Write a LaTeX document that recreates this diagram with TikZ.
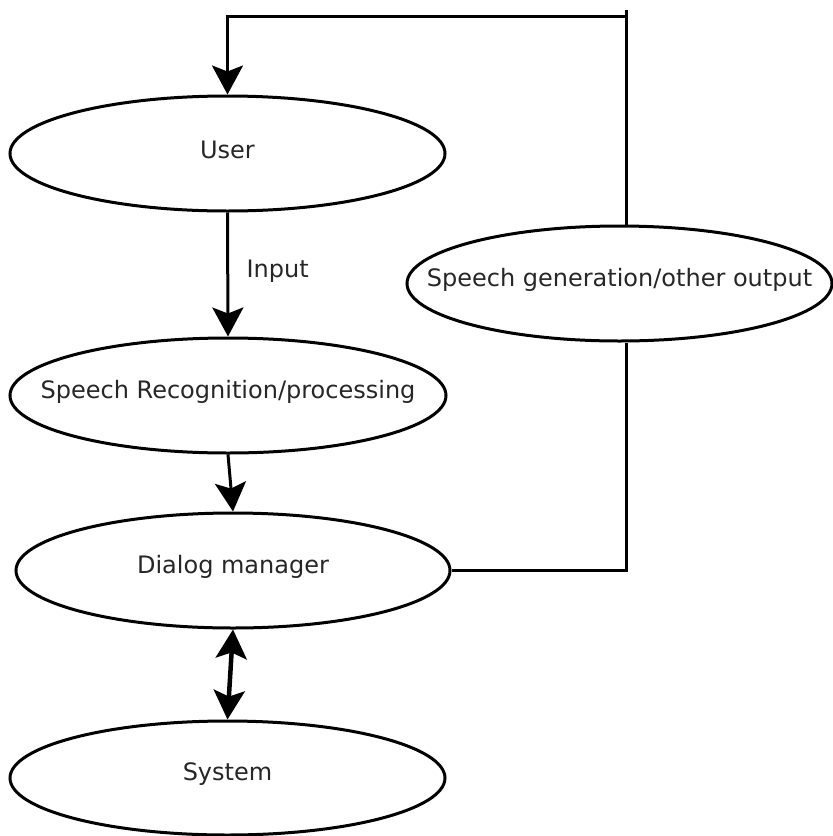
\documentclass[tikz,border=0pt]{standalone}
\usepackage{fontspec}
\setmainfont{DejaVu Sans}
\usetikzlibrary{shapes.geometric,arrows.meta}
\begin{document}
\begin{tikzpicture}[x=1pt,y=-1pt,
  lab/.style={font=\fontsize{24}{28}\selectfont,text=black!85},
  ell/.style={draw=black,line width=3pt,ellipse,inner sep=0pt},
  conn/.style={line width=3pt,draw=black},
  tip/.tip={Stealth[length=29pt,width=31pt,inset=6pt]},
  arr/.style={conn,-tip},
  dbl/.style={line width=4.5pt,draw=black,tip-tip}]
\useasboundingbox (0,0) rectangle (833,836);
\node[ell,minimum width=435pt,minimum height=115pt,label={[lab,yshift=4pt]center:User}] (user) at (227.5,153.5) {};
\node[ell,minimum width=436pt,minimum height=115pt,label={[lab,yshift=4pt]center:Speech Recognition/processing}] (sr) at (228,395.5) {};
\node[ell,minimum width=434pt,minimum height=115pt,label={[lab,yshift=4pt]center:Dialog manager}] (dm) at (233,570.5) {};
\node[ell,minimum width=435pt,minimum height=114pt,label={[lab,yshift=4pt]center:System}] (sys) at (227.5,778) {};
\node[ell,minimum width=425pt,minimum height=115pt,label={[lab,yshift=4pt]center:Speech generation/other output}] (sg) at (619.5,283.5) {};
\coordinate (tr) at (626,16);
\coordinate (tl) at (227.5,16);
\coordinate (tick) at (626,10);
\coordinate (br) at (626,570.5);
\draw[conn] (tr |- sg.north) -- (tick);
\draw[arr] (tr) -- (tl) -- (user.north);
\draw[arr] (user.south) -- node[lab,right=14pt,yshift=3pt] {Input} (sr.north);
\draw[arr] (sr.south) -- (dm.north);
\draw[dbl] (dm.south) -- (sys.north);
\draw[conn] (dm.east) -- (br) -- (tr |- sg.south);
\end{tikzpicture}
\end{document}
